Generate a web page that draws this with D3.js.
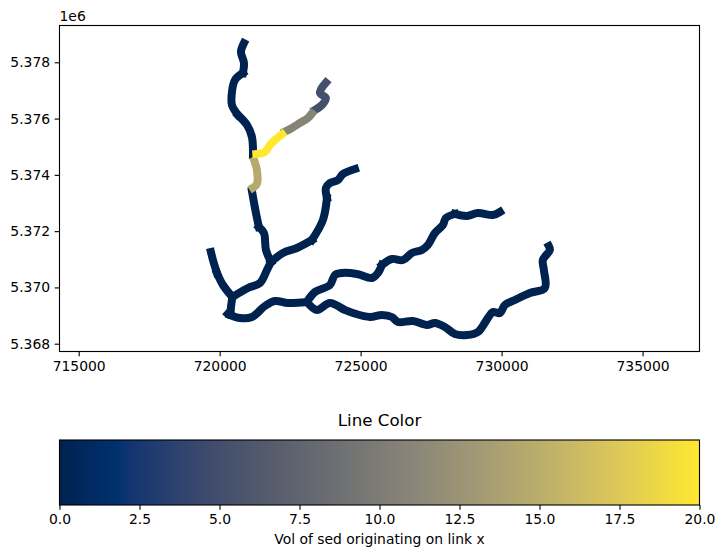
<!DOCTYPE html>
<html><head><meta charset="utf-8">
<script src="https://cdnjs.cloudflare.com/ajax/libs/d3/7.8.5/d3.min.js"></script>
<style>html,body{margin:0;padding:0;background:#fff}svg{display:block}text{font-family:"DejaVu Sans";fill:#000}</style>
</head><body><svg id="c" width="724" height="558"></svg>
<script>
const xTicks=[715000,720000,725000,730000,735000];
const yTicks=[5368000,5370000,5372000,5374000,5376000,5378000];
const cbTicks=[0,2.5,5,7.5,10,12.5,15,17.5,20];
const xDomain=[714319,737020];
const yDomain=[5367723,5379308];
const cbDomain=[0,20];
const cmapStops=[[0,"#00224e"],[0.09,"#00316f"],[0.111,"#123570"],[0.222,"#3b496c"],[0.333,"#575d6d"],[0.444,"#707173"],[0.556,"#8a8678"],[0.667,"#a59c74"],[0.778,"#c3b369"],[0.889,"#e1cc55"],[1,"#ffe82f"]];

const linkValues=[0,0,0,5.2,10.8,20,14.6,0,0,0,0,0,0,0,0,0,0,0,0,0,0];
const linkPaths=[
 [[720860,5378680],[720755,5378367],[720862,5377976],[720826,5377621]],
 [[720826,5377621],[720542,5377372],[720436,5376945],[720436,5376483],[720649,5376128]],
 [[720649,5376128],[720968,5375773],[721145,5375346],[721181,5374706]],
 [[723769,5377280],[723592,5377040],[723560,5376900],[723769,5376732],[723627,5376483],[723379,5376306]],
 [[722315,5375540],[722564,5375666],[722847,5375844],[723131,5376021],[723273,5376180]],
 [[721300,5374740],[721606,5374813],[721783,5375062],[721961,5375240],[722210,5375440]],
 [[721230,5374500],[721322,5374173],[721322,5373680],[721181,5373540]],
 [[721145,5373427],[721287,5372645],[721393,5372147]],
 [[721393,5372147],[721571,5371934],[721642,5371330],[721819,5370904]],
 [[721819,5370904],[721677,5370619],[721429,5370157],[721003,5369980],[720450,5369660]],
 [[721819,5370904],[722244,5371223],[722741,5371401],[723273,5371685]],
 [[723273,5371685],[723663,5372396],[723805,5373178]],
 [[723805,5373178],[723769,5373534],[723911,5373711],[724195,5373818],[724372,5374031],[724800,5374210]],
 [[719690,5371260],[719762,5370975],[719904,5370513]],
 [[719904,5370513],[720117,5370086],[720450,5369660]],
 [[720450,5369660],[720401,5369304],[720365,5369020],[720290,5369060]],
 [[720365,5369020],[720720,5368913],[721145,5368949],[721606,5369340],[721961,5369518],[722422,5369446],[723095,5369482]],
 [[723095,5369482],[723379,5369837],[723911,5370086],[724088,5370442],[724337,5370513],[724869,5370477],[725400,5370335],[725613,5370513],[725755,5370797]],
 [[725755,5370797],[726110,5371010],[726500,5370975],[726819,5371223],[727173,5371330],[727386,5371508],[727634,5371934],[727918,5372219],[728024,5372467],[728344,5372610]],
 [[728344,5372610],[728769,5372538],[729159,5372645],[729691,5372574],[729940,5372680]],
 [[723095,5369482],[723450,5369198],[723911,5369446],[724443,5369198],[724727,5369091],[725330,5368949],[725755,5369020],[726110,5368949],[726322,5368771],[726854,5368807],[727351,5368665],[727634,5368736],[727989,5368594],[728344,5368345],[728769,5368309],[729159,5368416],[729514,5368913],[729691,5369127],[729939,5369091],[730117,5369375],[730471,5369553],[731003,5369802],[731535,5369980],[731500,5370619],[731464,5370975],[731712,5371330],[731677,5371470]]
];

const W=724,H=558,L=59.5,R=699.5,T=25.5,B=351.5,CT=440,CB=505,FS=13.9,TL=4.86,LW=1.11;
const svg=d3.select("#c");
const x=d3.scaleLinear().domain(xDomain).range([L,R]);
const y=d3.scaleLinear().domain(yDomain).range([B,T]);
const cb=d3.scaleLinear().domain(cbDomain).range([L,R]);
const cmap=d3.scaleLinear().domain(cmapStops.map(s=>s[0])).range(cmapStops.map(s=>s[1])).interpolate(d3.interpolateRgb);
const color=v=>cmap((v-cbDomain[0])/(cbDomain[1]-cbDomain[0]));

const links=linkPaths.map((path,i)=>({path,value:linkValues[i]})).sort((a,b)=>d3.ascending(a.value,b.value));
const line=d3.line().x(d=>x(d[0])).y(d=>y(d[1])).curve(d3.curveCatmullRom.alpha(0.5));
svg.append("g").selectAll("path").data(links).join("path")
 .attr("d",d=>line(d.path)).attr("fill","none")
 .attr("stroke",d=>color(d.value))
 .attr("stroke-width",8).attr("stroke-linecap","square").attr("stroke-linejoin","round");

function style(g){
 g.select(".domain").remove();
 g.selectAll(".tick line").attr("stroke","#000").attr("stroke-width",LW);
 g.selectAll(".tick text").attr("font-size",FS).attr("font-family","DejaVu Sans").attr("fill","#000");
}
svg.append("g").attr("transform",`translate(0,${B})`)
 .call(d3.axisBottom(x).tickValues(xTicks).tickFormat(d3.format("d")).tickSize(TL).tickPadding(4.5)).call(style);
svg.append("g").attr("transform",`translate(${L},0)`)
 .call(d3.axisLeft(y).tickValues(yTicks).tickFormat(v=>(v/1e6).toFixed(3)).tickSize(TL).tickPadding(4.5)).call(style);
svg.append("rect").attr("x",L).attr("y",T).attr("width",R-L).attr("height",B-T)
 .attr("fill","none").attr("stroke","#000").attr("stroke-width",LW);
svg.append("text").attr("x",L).attr("y",20.5).attr("font-size",FS).text("1e6");

const defs=svg.append("defs");
const grad=defs.append("linearGradient").attr("id","cg").attr("x1","0").attr("x2","1").attr("y1","0").attr("y2","0");
grad.selectAll("stop").data(cmapStops).join("stop").attr("offset",d=>d[0]).attr("stop-color",d=>d[1]);
svg.append("rect").attr("x",L).attr("y",CT).attr("width",R-L).attr("height",CB-CT).attr("fill","url(#cg)");
svg.append("g").attr("transform",`translate(0,${CB})`)
 .call(d3.axisBottom(cb).tickValues(cbTicks).tickFormat(d3.format(".1f")).tickSize(TL).tickPadding(4.5)).call(style);
svg.append("rect").attr("x",L).attr("y",CT).attr("width",R-L).attr("height",CB-CT)
 .attr("fill","none").attr("stroke","#000").attr("stroke-width",LW);
svg.append("text").attr("x",(L+R)/2).attr("y",426).attr("text-anchor","middle").attr("font-size",16.67).text("Line Color");
svg.append("text").attr("x",(L+R)/2).attr("y",544).attr("text-anchor","middle").attr("font-size",FS).text("Vol of sed originating on link x");
</script></body></html>
